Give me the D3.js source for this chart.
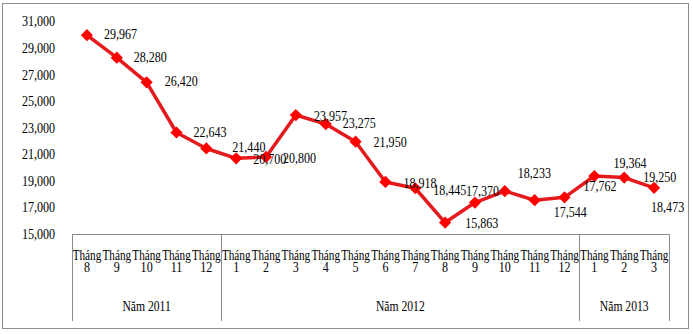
<!DOCTYPE html>
<html>
<head>
<meta charset="utf-8">
<script src="https://cdn.jsdelivr.net/npm/d3@7"></script>
<style>
  html, body { margin: 0; padding: 0; background: #fff; }
  svg { display: block; }
  text { font-family: "Liberation Serif", "Times New Roman", serif; fill: #000; }
</style>
</head>
<body>
<svg id="chart" width="693" height="334"></svg>
<script>
// ---- data ----
const months = ["8", "9", "10", "11", "12", "1", "2", "3", "4", "5", "6", "7", "8", "9", "10", "11", "12", "1", "2", "3"];
const years = ["Năm 2011", "Năm 2012", "Năm 2013"];
const yearCounts = [5, 12, 3];
const values = [29967, 28280, 26420, 22643, 21440, 20700, 20800, 23957, 23275, 21950, 18918, 18445, 15863, 17370, 18233, 17544, 17762, 19364, 19250, 18473];
const yTicks = [15000, 17000, 19000, 21000, 23000, 25000, 27000, 29000, 31000];
const monthWord = "Tháng";

// ---- layout / style (label nudges relative to each point) ----
const labelNudge = [
  [17, -1], [17, -1], [18, -1], [17, 0], [26, -1], [17, 1], [17, 1], [18, 1], [17, -1], [18, 0],
  [18, 1], [18, 2], [20, 1], [-9, -11], [13, -18], [19, 12], [19, -11], [19, -13], [19, 0], [-3, 19]
];

const svg = d3.select("#chart");
const plotLeft = 72, plotRight = 669, axisY = 234, plotTop = 21.5, boxBottom = 321;
const FS = "14px";

// outer border
svg.append("rect")
  .attr("x", 2.5).attr("y", 3.5).attr("width", 686).attr("height", 325)
  .attr("fill", "none").attr("stroke", "#8c8c8c").attr("stroke-width", 1);

const x = d3.scaleBand().domain(d3.range(values.length)).range([plotLeft, plotRight]).padding(0);
const y = d3.scaleLinear().domain([15000, 31000]).range([axisY, plotTop]);
const cx = i => x(i) + x.bandwidth() / 2;

// y axis (labels only)
const yAxis = svg.append("g").attr("transform", "translate(57,0)")
  .call(d3.axisLeft(y).tickValues(yTicks).tickSize(0).tickPadding(2).tickFormat(d3.format(",")));
yAxis.select(".domain").remove();
yAxis.selectAll("text").style("font-size", FS).style("font-family", "Liberation Serif, serif");

// category axis box
const xAxis = svg.append("g").attr("transform", `translate(0,${axisY})`)
  .call(d3.axisBottom(x).tickSize(0).tickPadding(0).tickFormat(""));
xAxis.select(".domain").remove();
xAxis.append("line").attr("x1", plotLeft).attr("x2", plotRight).attr("y1", 0.5).attr("y2", 0.5)
  .attr("stroke", "#8c8c8c");
xAxis.selectAll(".tick").each(function(d) {
  const t = d3.select(this).append("text")
    .attr("text-anchor", "middle").style("font-size", FS);
  t.append("tspan").attr("class", "mw").attr("x", 0).attr("y", 25.5).text(monthWord);
  t.append("tspan").attr("x", 0).attr("y", 38).text(months[d]);
});

// group boundaries
let start = 0;
const bounds = [0];
yearCounts.forEach(c => { start += c; bounds.push(start); });
bounds.forEach(b => {
  const bx = b < values.length ? x(b) : plotRight;
  xAxis.append("line").attr("x1", Math.round(bx) + 0.5).attr("x2", Math.round(bx) + 0.5)
    .attr("y1", 0).attr("y2", boxBottom - axisY).attr("stroke", "#8c8c8c");
});
years.forEach((yr, k) => {
  const a = x(bounds[k]);
  const b = bounds[k + 1] < values.length ? x(bounds[k + 1]) : plotRight;
  xAxis.append("text").attr("class", "yr").attr("x", (a + b) / 2).attr("y", 77)
    .attr("text-anchor", "middle").style("font-size", FS).text(yr);
});

// line
const line = d3.line().x((d, i) => cx(i)).y(d => y(d));
svg.append("path").datum(values).attr("d", line)
  .attr("fill", "none").attr("stroke", "#e41a1c").attr("stroke-width", 3.5).attr("stroke-linejoin", "round");

// markers
const diamond = d3.symbol().type(d3.symbolDiamond2).size(95);
svg.selectAll(".mk").data(values).join("path").attr("class", "mk")
  .attr("d", diamond)
  .attr("transform", (d, i) => `translate(${cx(i)},${y(d)})`)
  .attr("fill", "#ff0000");

// data labels
const fmt = d3.format(",");
svg.selectAll(".lbl").data(values).join("text").attr("class", "lbl")
  .attr("x", (d, i) => cx(i) + labelNudge[i][0])
  .attr("y", (d, i) => y(d) + labelNudge[i][1])
  .attr("dy", "0.35em")
  .style("font-size", FS)
  .text(d => fmt(d));

// squeeze text horizontally like the reference
svg.selectAll("text").each(function() {
  const el = this;
  const tsp = el.querySelectorAll("tspan");
  if (tsp.length) {
    tsp.forEach(s => {
      const f = s.classList.contains("mw") ? 0.8 : 0.86;
      s.setAttribute("textLength", (s.getComputedTextLength() * f).toFixed(2));
      s.setAttribute("lengthAdjust", "spacingAndGlyphs");
    });
  } else {
    const f = el.classList.contains("yr") ? 0.83 : 0.86;
    el.setAttribute("textLength", (el.getComputedTextLength() * f).toFixed(2));
    el.setAttribute("lengthAdjust", "spacingAndGlyphs");
  }
});
</script>
</body>
</html>
